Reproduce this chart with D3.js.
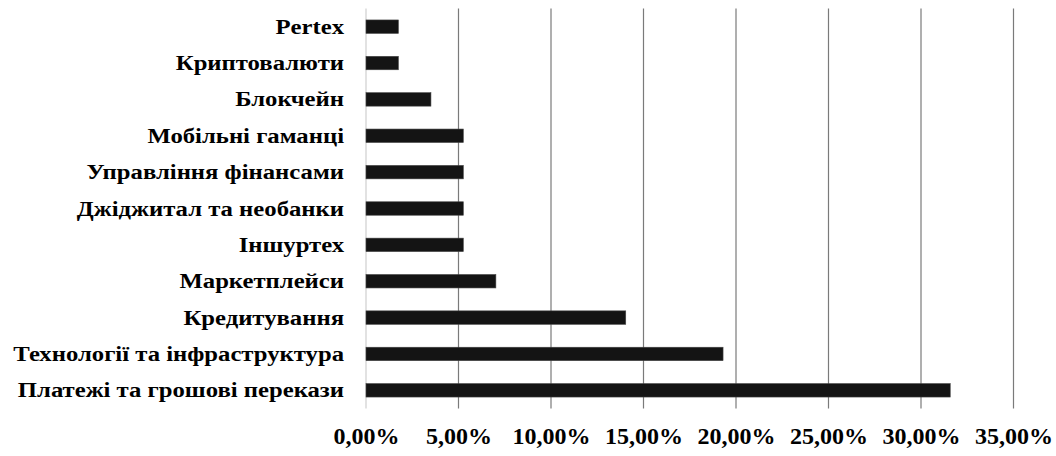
<!DOCTYPE html>
<html>
<head>
<meta charset="utf-8">
<script src="https://cdn.jsdelivr.net/npm/d3@7"></script>
<style>
  body { margin: 0; background: #fff; }
</style>
</head>
<body>
<div id="chart"></div>
<script>
// categories, top to bottom
var categories = [
  "Pertex",
  "Криптовалюти",
  "Блокчейн",
  "Мобільні гаманці",
  "Управління фінансами",
  "Джіджитал та необанки",
  "Іншуртех",
  "Маркетплейси",
  "Кредитування",
  "Технології та інфраструктура",
  "Платежі та грошові перекази"
];

// share of companies, %
var shares = [1.75, 1.75, 3.51, 5.26, 5.26, 5.26, 5.26, 7.02, 14.04, 19.30, 31.58];

var tickValues = [0, 5, 10, 15, 20, 25, 30, 35];

var svgWidth = 1056;
var svgHeight = 456;
var serif = "'Liberation Serif', 'Times New Roman', serif";

var margin = { top: 8.5, right: 42.5, bottom: 47.5, left: 366 };
var width = svgWidth - margin.left - margin.right;
var height = svgHeight - margin.top - margin.bottom;

var svg = d3.select("#chart")
  .append("svg")
  .attr("width", svgWidth)
  .attr("height", svgHeight);

var chartGroup = svg.append("g")
  .attr("transform", `translate(${margin.left}, ${margin.top})`);

var data = categories.map(function(c, i) { return { name: c, value: shares[i] }; });

var xScale = d3.scaleLinear()
  .domain([0, 35])
  .range([0, width]);

var yScale = d3.scaleBand()
  .domain(categories)
  .range([0, height])
  .paddingInner(0.63)
  .paddingOuter(0.315);

// vertical gridlines
chartGroup.selectAll(".grid")
  .data(tickValues)
  .enter()
  .append("line")
  .attr("class", "grid")
  .attr("x1", d => xScale(d))
  .attr("x2", d => xScale(d))
  .attr("y1", 0)
  .attr("y2", height)
  .attr("stroke", d => d === 0 ? "#cfcfcf" : "#7a7a7a")
  .attr("stroke-width", 1.2);

// bars
chartGroup.selectAll(".bar")
  .data(data)
  .enter()
  .append("rect")
  .attr("class", "bar")
  .attr("x", xScale(0))
  .attr("y", d => yScale(d.name))
  .attr("width", d => xScale(d.value) - xScale(0))
  .attr("height", yScale.bandwidth())
  .attr("fill", "#141414")
  .attr("stroke", "#444")
  .attr("stroke-width", 0.6);

// category axis (labels are a bit wider in the original, so stretch them)
var labelStretch = 1.123;
var leftAxis = d3.axisLeft(yScale).tickSize(0).tickPadding(22);
var yAxis = chartGroup.append("g")
  .attr("font-family", serif)
  .call(leftAxis);
yAxis.select(".domain").remove();
yAxis.selectAll("text")
  .attr("x", -22 / labelStretch)
  .attr("transform", `scale(${labelStretch}, 1)`)
  .style("font-family", serif)
  .style("font-weight", "bold")
  .style("font-size", "22px")
  .attr("fill", "#000");

// value axis
var bottomAxis = d3.axisBottom(xScale)
  .tickValues(tickValues)
  .tickSize(0)
  .tickPadding(35)
  .tickFormat(d => d.toFixed(2).replace(".", ",") + "%");
var xAxis = chartGroup.append("g")
  .attr("transform", `translate(0, ${height})`)
  .attr("font-family", serif)
  .call(bottomAxis);
xAxis.select(".domain").remove();
xAxis.selectAll("text")
  .attr("dy", 0)
  .style("font-family", serif)
  .style("font-weight", "bold")
  .style("font-size", "24px")
  .attr("fill", "#000");
</script>
</body>
</html>
